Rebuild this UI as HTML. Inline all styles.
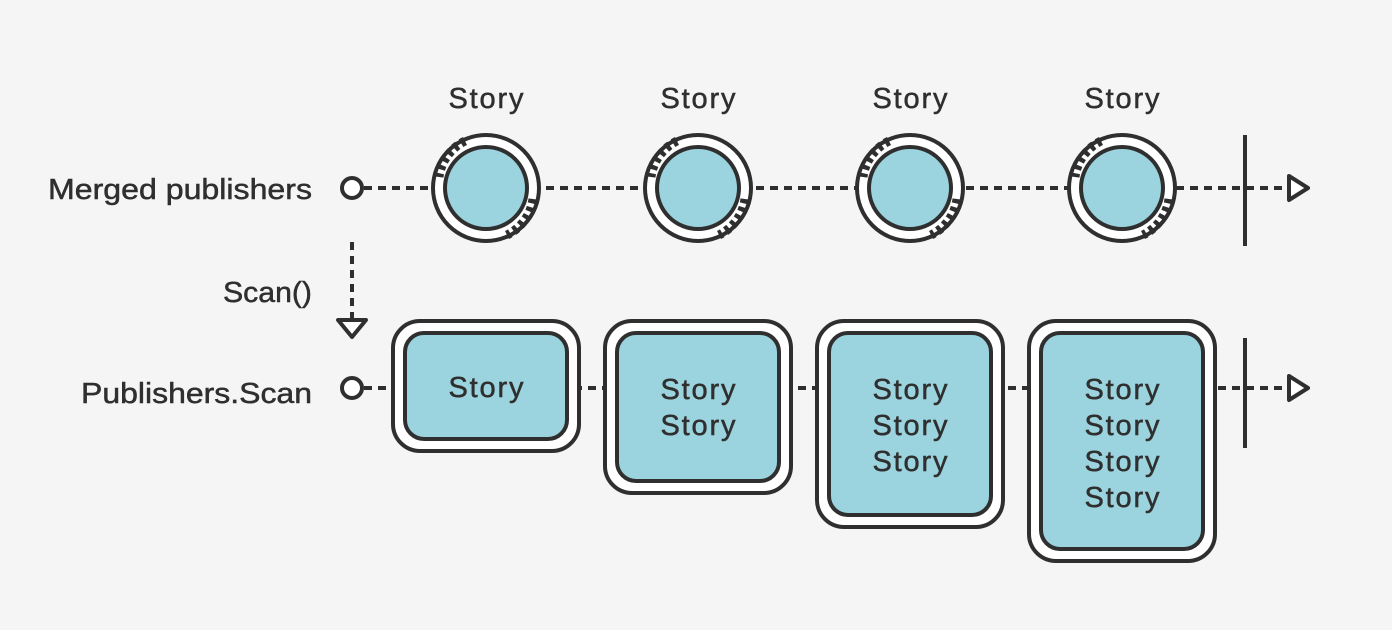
<!DOCTYPE html>
<html><head><style>
html,body{margin:0;padding:0;background:#f5f5f5;}
svg{display:block;}
text{font-family:"Liberation Sans",sans-serif;font-size:29px;fill:#2f2f2f;stroke:#2f2f2f;stroke-width:0.5px;}
</style></head><body>
<svg width="1392" height="630" viewBox="0 0 1392 630" xmlns="http://www.w3.org/2000/svg">
<rect width="1392" height="630" fill="#f5f5f5"/>
<g stroke="#2f2f2f" stroke-width="4" fill="none">
  <line x1="364" y1="188" x2="1290" y2="188" stroke-dasharray="8 6"/>
  <line x1="364" y1="388" x2="1290" y2="388" stroke-dasharray="8 6"/>
  <line x1="352" y1="242" x2="352" y2="320" stroke-dasharray="8 6"/>
  <line x1="1245" y1="135" x2="1245" y2="246"/>
  <line x1="1245" y1="338" x2="1245" y2="448"/>
  <path d="M1289 176 L1308 188 L1289 200 Z" fill="#fff" stroke-linejoin="round"/>
  <path d="M1289 376 L1308 388 L1289 400 Z" fill="#fff" stroke-linejoin="round"/>
  <path d="M338 320 L366 320 L352 337 Z" fill="#fff" stroke-linejoin="round"/>
  <circle cx="352" cy="188" r="10" fill="#fff"/>
  <circle cx="352" cy="388" r="10" fill="#fff"/>
</g>
<g stroke="#2f2f2f" stroke-width="4">
  <circle cx="486" cy="188" r="53" fill="#fff"/>
  <circle cx="698" cy="188" r="53" fill="#fff"/>
  <circle cx="910" cy="188" r="53" fill="#fff"/>
  <circle cx="1122" cy="188" r="53" fill="#fff"/>
</g>
<g stroke="#2f2f2f" stroke-width="9" fill="none" stroke-dasharray="4.5 4">
  <path d="M465 141 A47 47 0 0 0 439 177"/>
  <path d="M533 199 A47 47 0 0 1 507 235"/>
  <path d="M677 141 A47 47 0 0 0 651 177"/>
  <path d="M745 199 A47 47 0 0 1 719 235"/>
  <path d="M889 141 A47 47 0 0 0 863 177"/>
  <path d="M957 199 A47 47 0 0 1 931 235"/>
  <path d="M1101 141 A47 47 0 0 0 1075 177"/>
  <path d="M1169 199 A47 47 0 0 1 1143 235"/>
</g>
<g stroke="#2f2f2f" stroke-width="4">
  <circle cx="486" cy="188" r="41" fill="#9bd4de"/>
  <circle cx="698" cy="188" r="41" fill="#9bd4de"/>
  <circle cx="910" cy="188" r="41" fill="#9bd4de"/>
  <circle cx="1122" cy="188" r="41" fill="#9bd4de"/>
</g>
<g stroke="#2f2f2f" stroke-width="4">
  <rect x="393" y="321" width="186" height="130" rx="27" fill="#fff"/>
  <rect x="405" y="333" width="162" height="106" rx="19" fill="#9bd4de"/>
  <rect x="605" y="321" width="186" height="172" rx="27" fill="#fff"/>
  <rect x="617" y="333" width="162" height="148" rx="19" fill="#9bd4de"/>
  <rect x="817" y="321" width="186" height="206" rx="27" fill="#fff"/>
  <rect x="829" y="333" width="162" height="182" rx="19" fill="#9bd4de"/>
  <rect x="1029" y="321" width="186" height="240" rx="27" fill="#fff"/>
  <rect x="1041" y="333" width="162" height="216" rx="19" fill="#9bd4de"/>
</g>
<text x="48" y="199" textLength="264" lengthAdjust="spacingAndGlyphs">Merged publishers</text>
<text x="223" y="302" textLength="89" lengthAdjust="spacingAndGlyphs">Scan()</text>
<text x="81" y="403" textLength="231" lengthAdjust="spacingAndGlyphs">Publishers.Scan</text>
<g text-anchor="middle">
<text x="486" y="108" textLength="75">Story</text>
<text x="698" y="108" textLength="75">Story</text>
<text x="910" y="108" textLength="75">Story</text>
<text x="1122" y="108" textLength="75">Story</text>
<text x="486" y="397" textLength="75">Story</text>
<text x="698" y="399" textLength="75">Story</text>
<text x="698" y="435" textLength="75">Story</text>
<text x="910" y="399" textLength="75">Story</text>
<text x="910" y="435" textLength="75">Story</text>
<text x="910" y="471" textLength="75">Story</text>
<text x="1122" y="399" textLength="75">Story</text>
<text x="1122" y="435" textLength="75">Story</text>
<text x="1122" y="471" textLength="75">Story</text>
<text x="1122" y="507" textLength="75">Story</text>
</g>
</svg>
</body></html>
